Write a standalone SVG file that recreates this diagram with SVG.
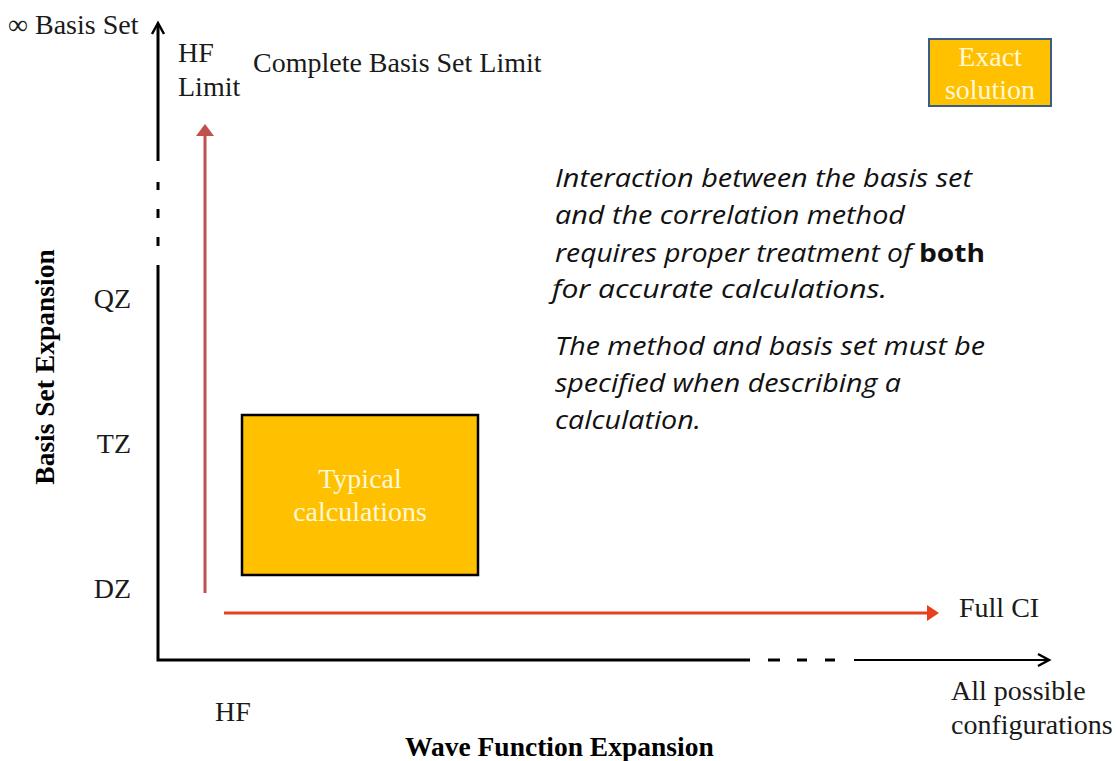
<svg xmlns="http://www.w3.org/2000/svg" width="1117" height="761" viewBox="0 0 1117 761">
<defs>
<style>
.serif{font-family:"Liberation Serif","Times New Roman",serif;fill:#1a1a1a;}
.lbl{font-size:28px;}
.bold{font-weight:bold;font-size:27.5px;fill:#000;}
.it{font-family:"Open Sans","Liberation Sans",sans-serif;font-style:italic;font-size:25px;fill:#111;}
.box{fill:#ffc000;}
.boxtxt{font-family:"Liberation Serif","Times New Roman",serif;font-size:28px;fill:#fff8d8;text-anchor:middle;}
.axis{stroke:#000;fill:none;}
</style>
</defs>
<rect width="1117" height="761" fill="#fff"/>
<g id="connectors">
<line class="axis" x1="158" y1="24" x2="158" y2="161" stroke-width="3"/>
<line class="axis" x1="158" y1="182" x2="158" y2="190" stroke-width="3"/>
<line class="axis" x1="158" y1="209" x2="158" y2="218" stroke-width="3"/>
<line class="axis" x1="158" y1="237" x2="158" y2="246" stroke-width="3"/>
<path class="axis" d="M158 265 V660 H750" stroke-width="3"/>
<polyline class="axis" points="152,34 158,23 164,34" stroke-width="2.5"/>
<line class="axis" x1="768" y1="660" x2="780" y2="660" stroke-width="3"/>
<line class="axis" x1="797" y1="660" x2="807" y2="660" stroke-width="3"/>
<line class="axis" x1="825" y1="660" x2="835" y2="660" stroke-width="3"/>
<line class="axis" x1="854" y1="660" x2="1049" y2="660" stroke-width="2"/>
<polyline class="axis" points="1038,654 1049,660 1038,666" stroke-width="2.5"/>
<line x1="205" y1="593" x2="205" y2="134" stroke="#c0504d" stroke-width="3"/>
<polygon points="205,124 196,136 214,136" fill="#c0504d"/>
<line x1="224" y1="613" x2="930" y2="613" stroke="#e8401c" stroke-width="3"/>
<polygon points="939,613 927,605 927,621" fill="#e8401c"/>
</g>
<g id="typical">
<rect class="box" x="242" y="415" width="236" height="160" stroke="#000" stroke-width="2.5"/>
<text class="boxtxt" x="360" y="488">Typical</text>
<text class="boxtxt" x="360" y="521">calculations</text>
</g>
<g id="exact">
<rect class="box" x="929" y="39" width="122" height="67" stroke="#385d8a" stroke-width="2"/>
<text class="boxtxt" x="990" y="66">Exact</text>
<text class="boxtxt" x="990" y="99">solution</text>
</g>
<g id="labels">
<text class="serif lbl" x="8" y="34">∞ Basis Set</text>
<text class="serif lbl" x="178" y="62">HF</text>
<text class="serif lbl" x="178" y="96">Limit</text>
<text class="serif lbl" x="253" y="72">Complete Basis Set Limit</text>
<text class="serif lbl" x="131" y="308" text-anchor="end">QZ</text>
<text class="serif lbl" x="131" y="453" text-anchor="end">TZ</text>
<text class="serif lbl" x="131" y="598" text-anchor="end">DZ</text>
<text class="serif lbl" x="959" y="617">Full CI</text>
<text class="serif lbl" x="951" y="700">All possible</text>
<text class="serif lbl" x="951" y="734">configurations</text>
<text class="serif lbl" x="215" y="721">HF</text>
<text class="serif bold" x="405" y="756">Wave Function Expansion</text>
<text class="serif bold" transform="translate(54,367) rotate(-90)" text-anchor="middle">Basis Set Expansion</text>
</g>
<g id="note">
<text class="it" x="555" y="187" textLength="417" lengthAdjust="spacingAndGlyphs">Interaction between the basis set</text>
<text class="it" x="555" y="224" textLength="350" lengthAdjust="spacingAndGlyphs">and the correlation method</text>
<text class="it" x="555" y="262" textLength="430" lengthAdjust="spacingAndGlyphs">requires proper treatment of <tspan font-weight="bold" font-style="normal">both</tspan></text>
<text class="it" x="552" y="298" textLength="335" lengthAdjust="spacingAndGlyphs">for accurate calculations.</text>
<text class="it" x="555" y="355" textLength="430" lengthAdjust="spacingAndGlyphs">The method and basis set must be</text>
<text class="it" x="555" y="392" textLength="346" lengthAdjust="spacingAndGlyphs">specified when describing a</text>
<text class="it" x="555" y="429" textLength="146" lengthAdjust="spacingAndGlyphs">calculation.</text>
</g>
</svg>
